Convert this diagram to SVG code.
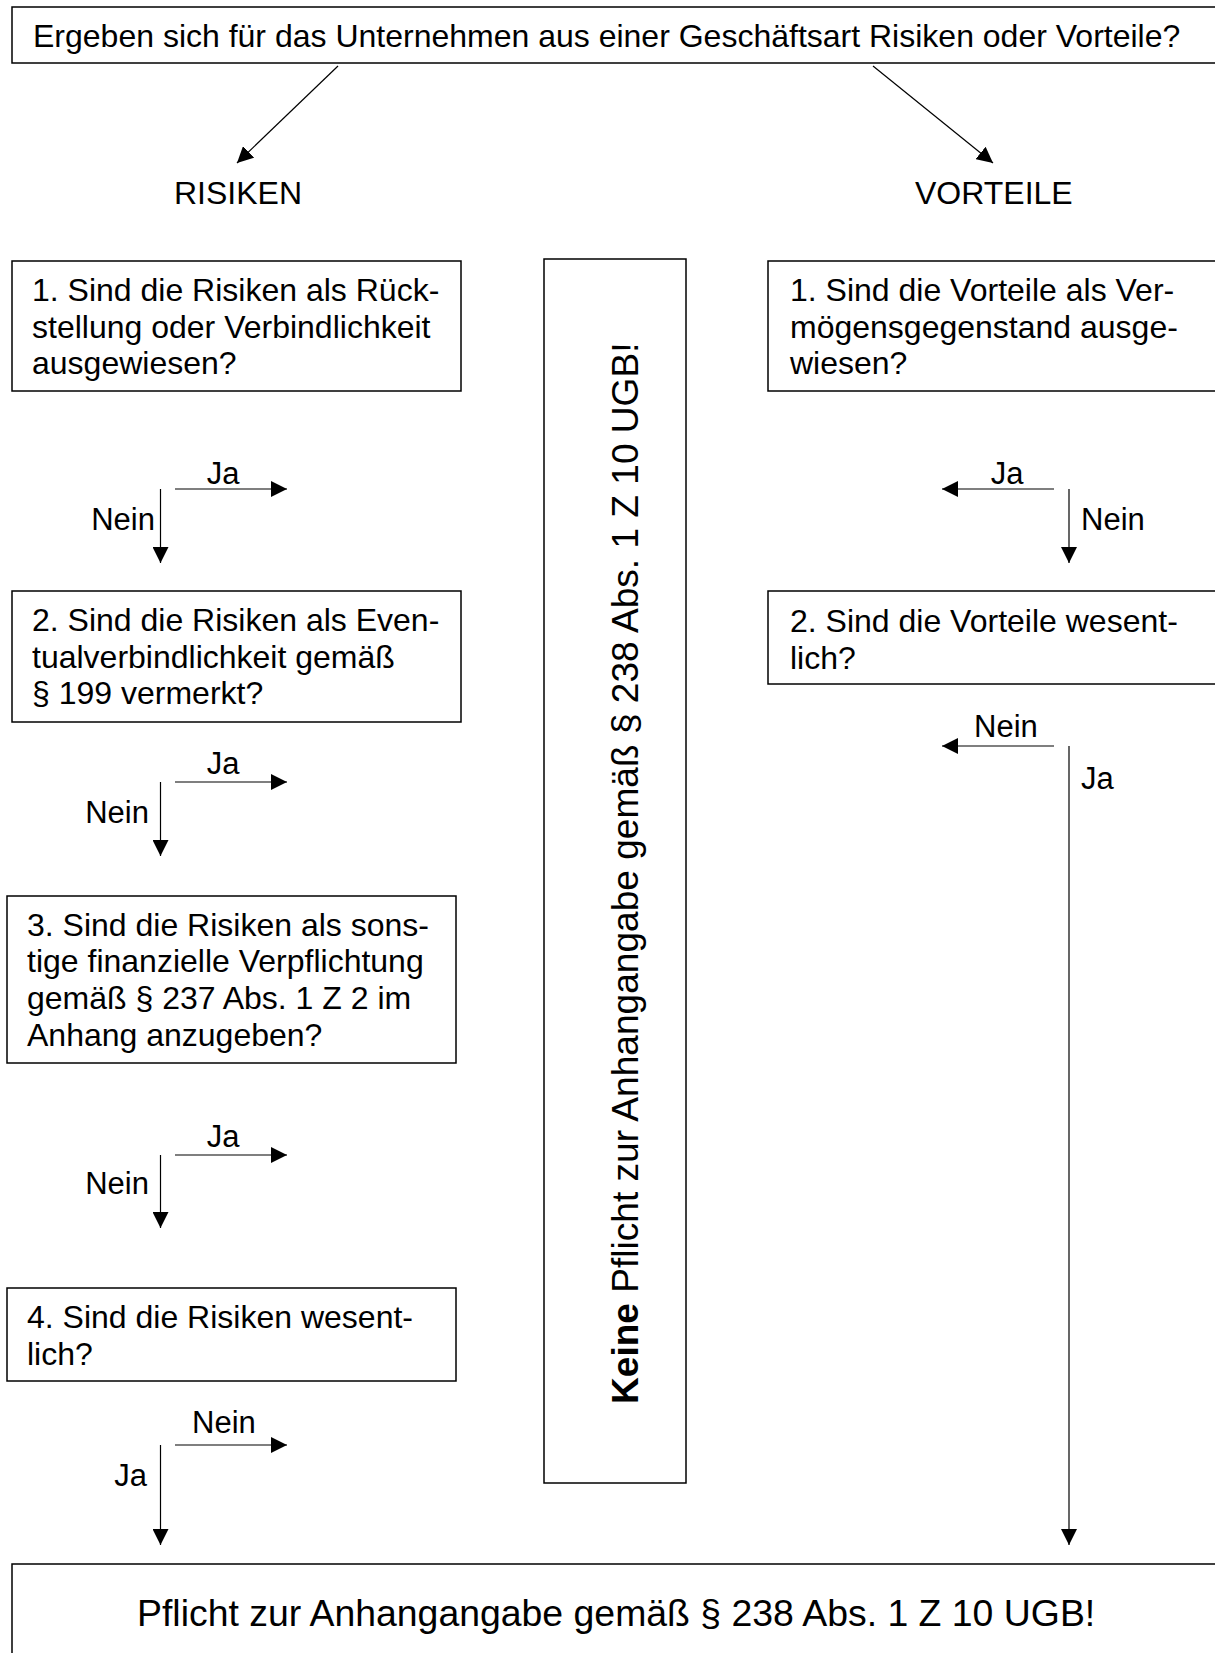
<svg xmlns="http://www.w3.org/2000/svg" width="1215" height="1653" viewBox="0 0 1215 1653">
<style>
.box{fill:#fff;stroke:#000;stroke-width:1.5}
.t{font-family:"Liberation Sans",Arial,sans-serif;font-size:32px;fill:#000}
.lbl{font-family:"Liberation Sans",Arial,sans-serif;font-size:31px;fill:#000}
.big{font-family:"Liberation Sans",Arial,sans-serif;font-size:37.4px;fill:#000}
.vbig{font-family:"Liberation Sans",Arial,sans-serif;font-size:37.1px;fill:#000}
.c{stroke:#000;stroke-width:1.2;fill:none}
</style>
<defs>
<marker id="ah" markerUnits="userSpaceOnUse" markerWidth="16" markerHeight="16" viewBox="0 0 16 16" refX="16" refY="8" orient="auto">
<path d="M0,0 L16,8 L0,16 Z" fill="#000"/>
</marker>
</defs>
<rect width="1215" height="1653" fill="#fff"/>
<g id="n-top">
<rect class="box" x="12" y="7" width="1220" height="56"/>
<text class="t" x="33" y="47">Ergeben sich für das Unternehmen aus einer Geschäftsart Risiken oder Vorteile?</text>
</g>
<g id="n-risiken"><text class="t" x="174" y="204">RISIKEN</text></g>
<g id="n-vorteile"><text class="t" x="915" y="204">VORTEILE</text></g>
<g id="n-r1">
<rect class="box" x="12" y="261" width="449" height="130"/>
<text class="t" x="32" y="301">1. Sind die Risiken als Rück-</text>
<text class="t" x="32" y="338">stellung oder Verbindlichkeit</text>
<text class="t" x="32" y="374">ausgewiesen?</text>
</g>
<g id="n-r2">
<rect class="box" x="12" y="591" width="449" height="131"/>
<text class="t" x="32" y="631">2. Sind die Risiken als Even-</text>
<text class="t" x="32" y="668">tualverbindlichkeit gemäß</text>
<text class="t" x="32" y="704">§ 199 vermerkt?</text>
</g>
<g id="n-r3">
<rect class="box" x="7" y="896" width="449" height="167"/>
<text class="t" x="27" y="936">3. Sind die Risiken als sons-</text>
<text class="t" x="27" y="972">tige finanzielle Verpflichtung</text>
<text class="t" x="27" y="1009">gemäß § 237 Abs. 1 Z 2 im</text>
<text class="t" x="27" y="1046">Anhang anzugeben?</text>
</g>
<g id="n-r4">
<rect class="box" x="7" y="1288" width="449" height="93"/>
<text class="t" x="27" y="1328">4. Sind die Risiken wesent-</text>
<text class="t" x="27" y="1365">lich?</text>
</g>
<g id="n-v1">
<rect class="box" x="768" y="261" width="460" height="130"/>
<text class="t" x="790" y="301">1. Sind die Vorteile als Ver-</text>
<text class="t" x="790" y="338">mögensgegenstand ausge-</text>
<text class="t" x="790" y="374">wiesen?</text>
</g>
<g id="n-v2">
<rect class="box" x="768" y="591" width="460" height="93"/>
<text class="t" x="790" y="632">2. Sind die Vorteile wesent-</text>
<text class="t" x="790" y="669">lich?</text>
</g>
<g id="n-keine">
<rect class="box" x="544" y="259" width="142" height="1224"/>
<text class="vbig" transform="translate(638,1404) rotate(-90)"><tspan font-weight="bold">Keine</tspan> Pflicht zur Anhangangabe gemäß § 238 Abs. 1 Z 10 UGB!</text>
</g>
<g id="n-pflicht">
<rect class="box" x="12" y="1564" width="1220" height="100"/>
<text class="big" x="137" y="1626">Pflicht zur Anhangangabe gemäß § 238 Abs. 1 Z 10 UGB!</text>
</g>
<g id="connectors">
<line class="c" x1="338" y1="66" x2="237" y2="163" marker-end="url(#ah)"/>
<line class="c" x1="873" y1="66" x2="993" y2="163" marker-end="url(#ah)"/>
<line class="c" x1="175" y1="489" x2="287" y2="489" marker-end="url(#ah)"/>
<line class="c" x1="160.5" y1="489" x2="160.5" y2="563" marker-end="url(#ah)"/>
<line class="c" x1="175" y1="782" x2="287" y2="782" marker-end="url(#ah)"/>
<line class="c" x1="160.5" y1="782" x2="160.5" y2="856" marker-end="url(#ah)"/>
<line class="c" x1="175" y1="1155" x2="287" y2="1155" marker-end="url(#ah)"/>
<line class="c" x1="160.5" y1="1155" x2="160.5" y2="1228" marker-end="url(#ah)"/>
<line class="c" x1="175" y1="1445" x2="287" y2="1445" marker-end="url(#ah)"/>
<line class="c" x1="160.5" y1="1445" x2="160.5" y2="1545" marker-end="url(#ah)"/>
<line class="c" x1="1054" y1="489" x2="942" y2="489" marker-end="url(#ah)"/>
<line class="c" x1="1069" y1="489" x2="1069" y2="563" marker-end="url(#ah)"/>
<line class="c" x1="1054" y1="746" x2="942" y2="746" marker-end="url(#ah)"/>
<line class="c" x1="1069" y1="746" x2="1069" y2="1545" marker-end="url(#ah)"/>
</g>
<g id="labels">
<text class="lbl" x="223" y="484" text-anchor="middle">Ja</text>
<text class="lbl" x="155" y="530" text-anchor="end">Nein</text>
<text class="lbl" x="223" y="774" text-anchor="middle">Ja</text>
<text class="lbl" x="149" y="823" text-anchor="end">Nein</text>
<text class="lbl" x="223" y="1147" text-anchor="middle">Ja</text>
<text class="lbl" x="149" y="1194" text-anchor="end">Nein</text>
<text class="lbl" x="224" y="1433" text-anchor="middle">Nein</text>
<text class="lbl" x="147" y="1486" text-anchor="end">Ja</text>
<text class="lbl" x="1007" y="484" text-anchor="middle">Ja</text>
<text class="lbl" x="1081" y="530">Nein</text>
<text class="lbl" x="1006" y="737" text-anchor="middle">Nein</text>
<text class="lbl" x="1081" y="789">Ja</text>
</g>
</svg>
